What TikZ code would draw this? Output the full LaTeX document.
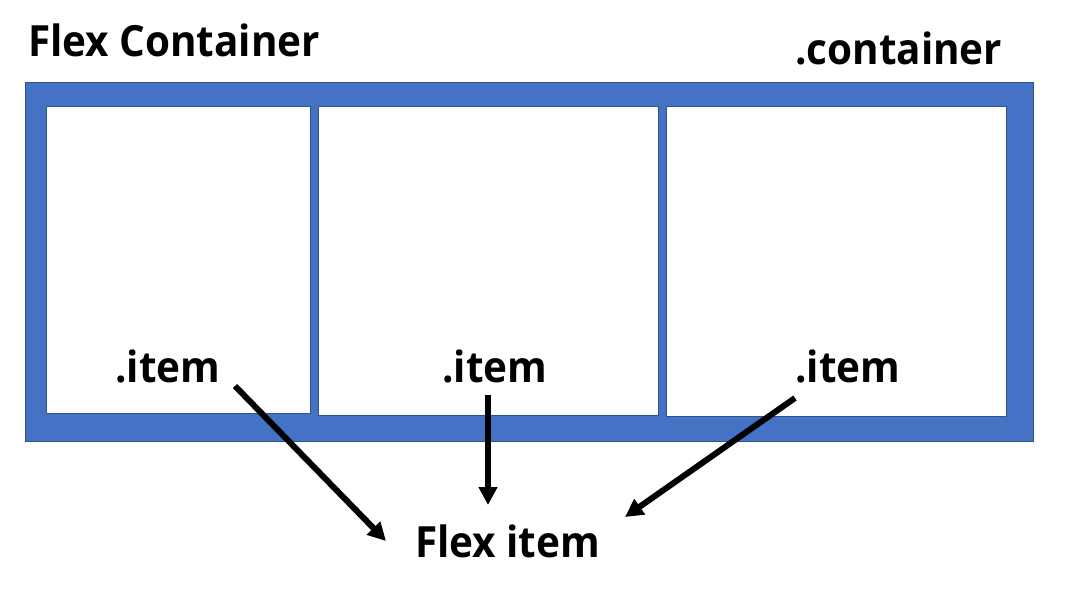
\documentclass[tikz,border=0pt]{standalone}
\usepackage{fontspec}
\setmainfont{Open Sans}
\newfontfamily\lblfont[FakeStretch=0.94]{Open Sans}
\usetikzlibrary{arrows.meta}
\definecolor{cblue}{HTML}{4472C4}
\definecolor{cedge}{HTML}{2F528F}
\begin{document}
\begin{tikzpicture}[x=1pt,y=-1pt,
  lbl/.style={inner sep=0pt,anchor=base west,font=\lblfont\fontsize{43}{43}\selectfont\bfseries},
  itembox/.style={draw=cedge,fill=white,line width=1pt},
  arr/.style={draw=black,line width=6pt,-{Triangle[length=18pt,width=18pt]}}]
\useasboundingbox (0,0) rectangle (1076,593);
\fill[white] (0,0) rectangle (1076,593);
\filldraw[fill=cblue,draw=cedge,line width=1pt] (25,83) rectangle (1033,441);
\node[itembox,inner sep=0pt,minimum width=264pt,minimum height=307pt,anchor=north west] (b1) at (46,106) {};
\node[itembox,inner sep=0pt,minimum width=340pt,minimum height=309pt,anchor=north west] (b2) at (318,106) {};
\node[itembox,inner sep=0pt,minimum width=340pt,minimum height=310pt,anchor=north west] (b3) at (666,106) {};
\node[lbl] (title) at (28,57) {Flex Container};
\node[lbl] (cont) at (795,65) {.container};
\node[lbl] (i1) at (115,382) {.item};
\node[lbl] (i2) at (442,382) {.item};
\node[lbl] (i3) at (795,382) {.item};
\node[lbl] (fi) at (415,557) {Flex item};
\coordinate (s1) at (235,386);
\coordinate (e1) at (386,541);
\coordinate (s2) at (488,395);
\coordinate (e2) at (488,505);
\coordinate (s3) at (795,398);
\coordinate (e3) at (625,517);
\draw[arr] (s1) -- (e1);
\draw[arr] (s2) -- (e2);
\draw[arr] (s3) -- (e3);
\end{tikzpicture}
\end{document}
